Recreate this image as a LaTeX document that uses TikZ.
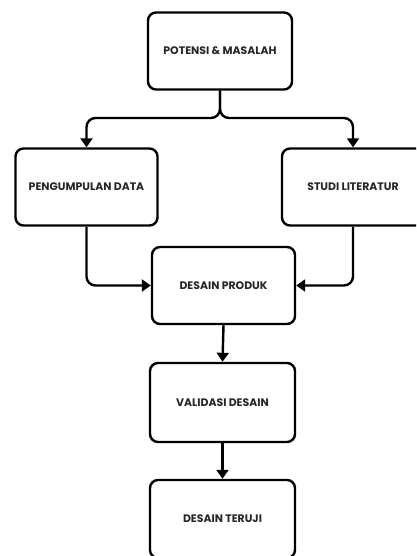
\documentclass[tikz,border=0pt]{standalone}
\usepackage{fontspec}
\setmainfont{Poppins}
\usetikzlibrary{arrows.meta, positioning}

\begin{document}
\begin{tikzpicture}[
        x=1pt, y=1pt,
        >={Triangle[width=12pt,length=9pt]},
        every node/.style={font=\bfseries\fontsize{10.9}{12}\selectfont, text=black!85},
        stepbox/.style={draw, line width=2.4pt, rounded corners=8pt, minimum width=142pt, minimum height=77pt},
        link/.style={->, line width=2.4pt, rounded corners=9pt}
    ]
    \useasboundingbox (0,0) rectangle (416,-556);
    \clip (0,0) rectangle (416,-556);
    \node[stepbox, minimum width=144pt] (pm) at (220,-51) {POTENSI \& MASALAH};
    \node[stepbox] (pd) at (86.5,-187) {PENGUMPULAN DATA};
    \node[stepbox] (sl) at (353,-187) {STUDI LITERATUR};
    \node[stepbox, minimum width=143pt] (dp) at (223.5,-285.5) {DESAIN PRODUK};
    \node[stepbox, minimum width=145pt, minimum height=79pt] (vd) at (222.5,-402.5) {VALIDASI DESAIN};
    \node[stepbox, minimum width=145pt, minimum height=78pt] (dt) at (222.5,-519) {DESAIN TERUJI};
    \coordinate (split) at (220,-118);
    \draw[link] (pm.south) -- (split) -| (pd.north);
    \draw[link] (pm.south) -- (split) -| (sl.north);
    \draw[link] (pd.south) |- (dp.west);
    \draw[link] (sl.south) |- (dp.east);
    \draw[link] (dp.south) -- (vd.north);
    \draw[link] (vd.south) -- (dt.north);
\end{tikzpicture}
\end{document}
